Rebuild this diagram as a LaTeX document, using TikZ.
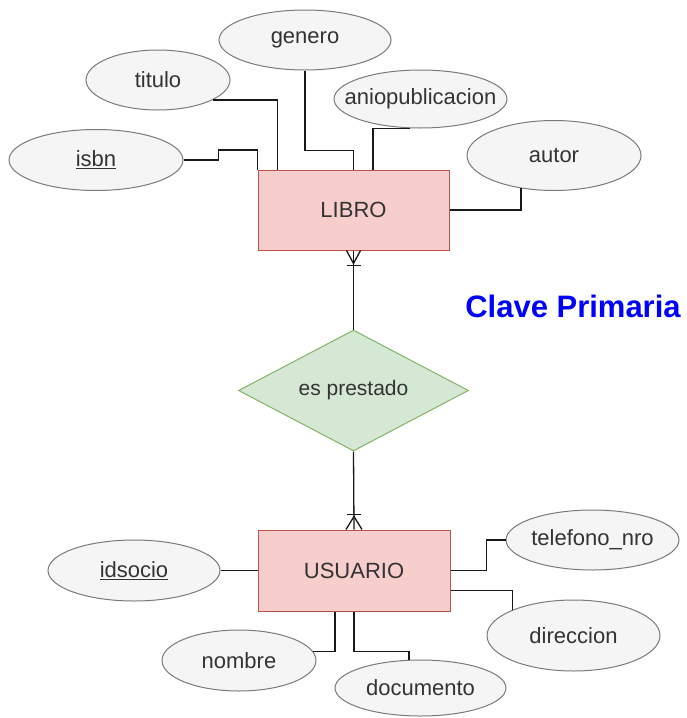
\documentclass[tikz,border=0pt]{standalone}
\usepackage{fontspec}
\setmainfont{Liberation Sans}
\usetikzlibrary{shapes.geometric}
\definecolor{entfill}{HTML}{F8CECC}
\definecolor{entline}{HTML}{B85450}
\definecolor{relfill}{HTML}{D5E8D4}
\definecolor{relline}{HTML}{82B366}
\definecolor{attfill}{HTML}{F5F5F5}
\definecolor{attline}{HTML}{7A7A7A}
\definecolor{txtgray}{HTML}{333333}
\definecolor{keyblue}{HTML}{0000FF}

\begin{document}
\begin{tikzpicture}[
  x=1pt, y=-1pt,
  entity/.style={rectangle, draw=entline, fill=entfill, line width=1pt,
    minimum width=191pt, minimum height=80pt, text=txtgray,
    font=\fontsize{22}{26}\selectfont},
  relation/.style={diamond, draw=relline, fill=relfill, line width=1pt,
    minimum width=230pt, minimum height=121pt, inner sep=0pt, aspect=1.9,
    text=txtgray, font=\fontsize{21}{25}\selectfont},
  attr/.style={ellipse, draw=attline, fill=attfill, line width=1pt,
    minimum width=173pt, minimum height=60pt, inner xsep=-30pt, inner ysep=0pt,
    text=txtgray, font=\fontsize{22}{26}\selectfont},
  link/.style={black!90, line width=1.3pt}
]

% Page frame
\useasboundingbox (0,0) rectangle (687,718);

% ── Entities ──
\node[entity] (libro) at (353.5,210) {LIBRO};
\node[entity, minimum width=192pt, minimum height=81pt] (usuario) at (354,570.5) {USUARIO};

% ── Relationship ──
\node[relation] (rel) at (353.5,390.5) {es prestado};

% ── Attributes of LIBRO ──
\node[attr, minimum width=174pt, minimum height=61pt] (isbn) at (96,160) {\underline{isbn}};
\node[attr, minimum width=144pt] (titulo) at (158,80) {titulo};
\node[attr, minimum width=172pt] (genero) at (305,40) {genero};
\node[attr, minimum height=58pt] (anio) at (420.5,99) {aniopublicacion};
\node[attr, minimum width=174pt, minimum height=70pt] (autor) at (554,155.5) {autor};

% ── Attributes of USUARIO ──
\node[attr, minimum width=172pt, minimum height=61pt] (idsocio) at (134,570.5) {\underline{idsocio}};
\node[attr, minimum width=154pt, minimum height=61pt] (nombre) at (239,660.5) {nombre};
\node[attr, minimum width=171pt, minimum height=56pt] (doc) at (420.5,688) {documento};
\node[attr] (tel) at (592.5,540) {telefono\_nro};
\node[attr, minimum height=71pt] (dir) at (573.5,635.5) {direccion};

% ── Connectors LIBRO ──
\draw[link] (isbn.east) -- ++(35,0) -- ++(0,-10) -| (libro.north west);
\draw[link] (titulo.-20) -| ([xshift=20pt]libro.north west);
\draw[link] (genero.south) -- ++(0,80) -| (libro.north);
\draw[link] ([xshift=19.5pt]libro.north) |- (anio.-110);
\draw[link] (libro.east) -| (autor.-135);

% ── Connectors USUARIO ──
\draw[link] (idsocio.east) -- (usuario.west);
\draw[link] (usuario.east) -- ++(36,0) |- (tel.west);
\draw[link] ([yshift=-20pt]usuario.east) -| (dir.157);
\draw[link] ([xshift=-19pt]usuario.south) |- (nombre.7);
\draw[link] (usuario.south) -- ++(0,40) -| (doc.112);

% ── Relationship lines with crow's feet ──
\draw[link] (libro.south) -- (rel.north);
\draw[link] (rel.south) -- (usuario.north);
\draw[link] (libro.south) ++(-7,0) -- ++(7,13) -- ++(7,-13);
\draw[link] (libro.south) ++(-7,15) -- ++(14,0);
\draw[link] (usuario.north) ++(-8,0) -- ++(8,-13) -- ++(8,13);
\draw[link] (usuario.north) ++(-7,-15) -- ++(14,0);

% ── Key label ──
\node[keyblue, font=\fontsize{31}{36}\selectfont\bfseries, anchor=base]
  (clave) at (573,317) {Clave Primaria};

\end{tikzpicture}
\end{document}
